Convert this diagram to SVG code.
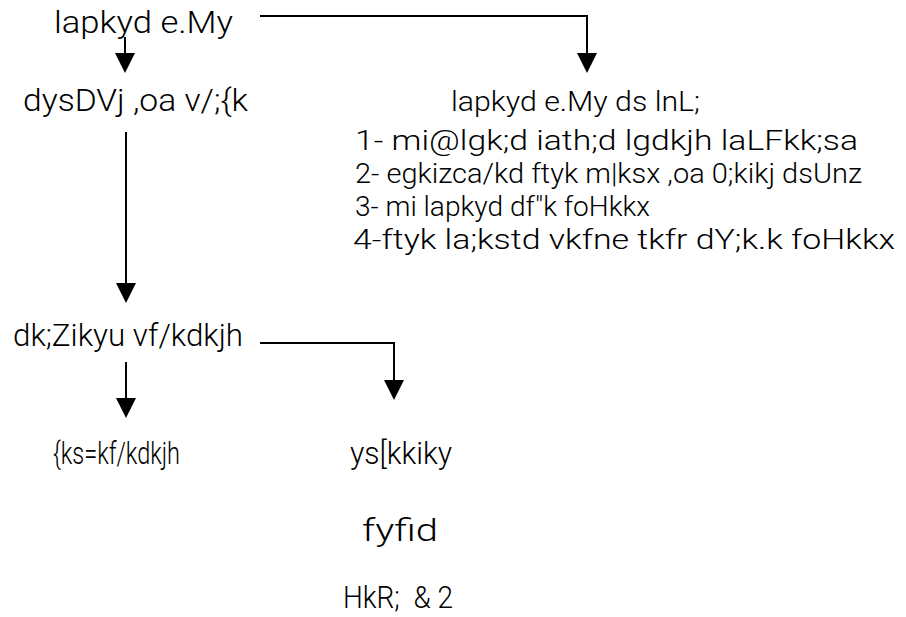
<svg xmlns="http://www.w3.org/2000/svg" width="906" height="617" viewBox="0 0 906 617">
<style>
  text { font-family: "Roboto", "Liberation Sans", "DejaVu Sans", sans-serif; font-weight: 300; fill: #000; }
  .big { font-size: 32px; }
  .mid { font-size: 28px; }
  .conn { fill: none; stroke: #000; stroke-width: 2; }
  .head { fill: #000; }
</style>
<g id="connectors">
  <path class="conn" d="M260,16 H587 V53"/>
  <path class="head" d="M577,53 L597,53 L587,73 Z"/>
  <path class="conn" d="M125,37 V53"/>
  <path class="head" d="M115,53 L135,53 L125,73 Z"/>
  <path class="conn" d="M126,132 V283"/>
  <path class="head" d="M116,283 L136,283 L126,303 Z"/>
  <path class="conn" d="M260,343 H394 V380"/>
  <path class="head" d="M384,380 L404,380 L394,400 Z"/>
  <path class="conn" d="M126,362 V398"/>
  <path class="head" d="M116,398 L136,398 L126,418 Z"/>
</g>
<g id="n1"><text class="big" x="54" y="33" textLength="179" lengthAdjust="spacingAndGlyphs">lapkyd e.My</text></g>
<g id="n2"><text class="big" x="23" y="111" textLength="225" lengthAdjust="spacingAndGlyphs">dysDVj ,oa v/;{k</text></g>
<g id="n3">
  <text class="mid" x="451" y="111" textLength="249" lengthAdjust="spacingAndGlyphs">lapkyd e.My ds lnL;</text>
  <text class="mid" x="355" y="150" textLength="503" lengthAdjust="spacingAndGlyphs">1- mi@lgk;d iath;d lgdkjh laLFkk;sa</text>
  <text class="mid" x="355" y="183" textLength="507" lengthAdjust="spacingAndGlyphs">2- egkizca/kd ftyk m|ksx ,oa 0;kikj dsUnz</text>
  <text class="mid" x="355" y="216" textLength="295" lengthAdjust="spacingAndGlyphs">3- mi lapkyd df"k foHkkx</text>
  <text class="mid" x="353" y="249" textLength="542" lengthAdjust="spacingAndGlyphs">4-ftyk la;kstd vkfne tkfr dY;k.k foHkkx</text>
</g>
<g id="n4"><text class="big" x="13" y="346" textLength="230" lengthAdjust="spacingAndGlyphs">dk;Zikyu vf/kdkjh</text></g>
<g id="n5"><text class="big" x="53" y="464" textLength="127" lengthAdjust="spacingAndGlyphs">{ks=kf/kdkjh</text></g>
<g id="n6"><text class="big" x="350" y="464" textLength="102" lengthAdjust="spacingAndGlyphs">ys[kkiky</text></g>
<g id="n7"><text class="big" x="362" y="541" textLength="76" lengthAdjust="spacingAndGlyphs">fyfid</text></g>
<g id="n8"><text class="big" x="343" y="608" textLength="110" lengthAdjust="spacingAndGlyphs" xml:space="preserve">HkR;  &amp; 2</text></g>
</svg>
